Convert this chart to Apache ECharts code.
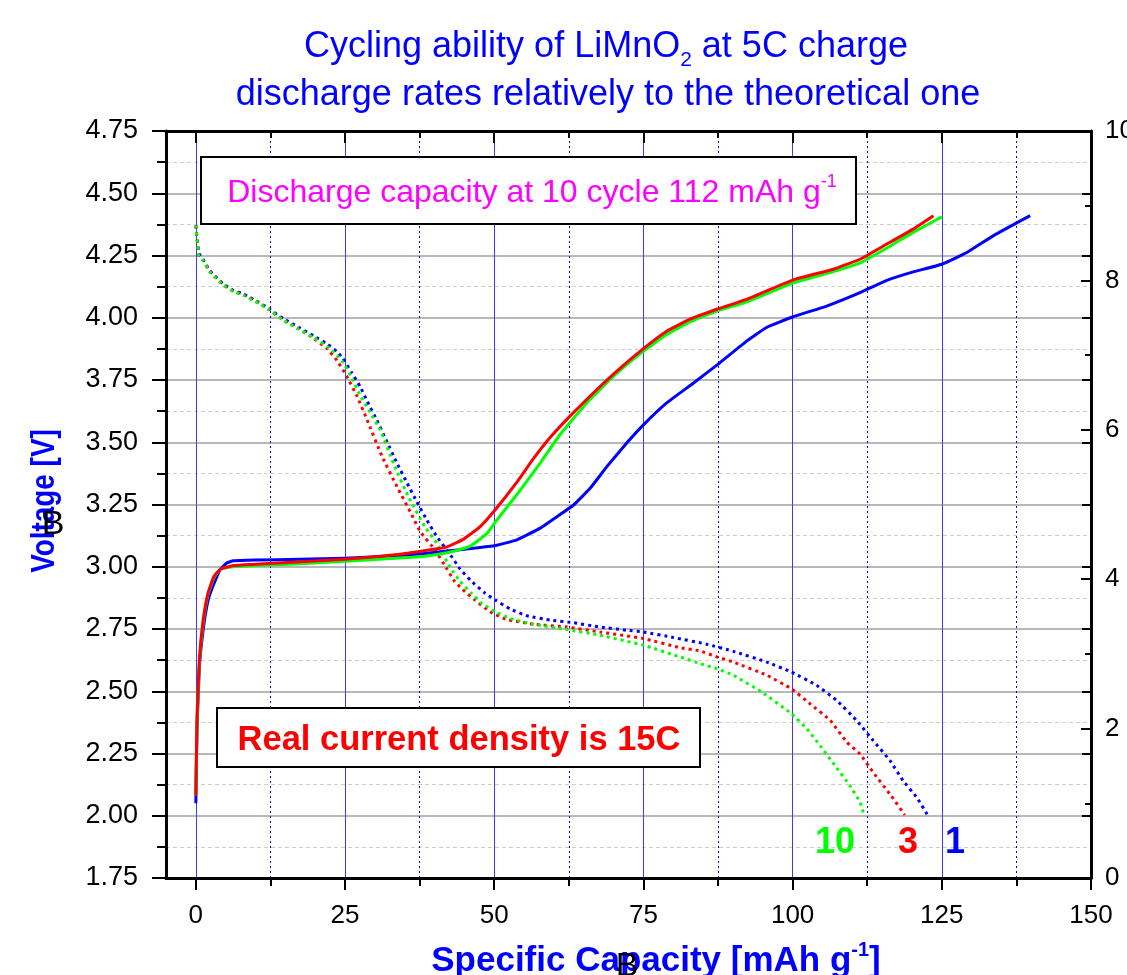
<!DOCTYPE html>
<html>
<head>
<meta charset="utf-8">
<script src="https://cdn.jsdelivr.net/npm/echarts@6/dist/echarts.min.js"></script>
<style>
html, body { margin: 0; padding: 0; background: #fff; }
#chart { width: 1127px; height: 975px; }
</style>
</head>
<body>
<div id="chart"></div>
<script>
// Galvanostatic charge/discharge profiles of LiMnO2, cycles 1, 3 and 10
const FONT = '"Liberation Sans", Arial, sans-serif';

const xMajorTicks = [0, 25, 50, 75, 100, 125, 150];
const xMinorTicks = [12.5, 37.5, 62.5, 87.5, 112.5, 137.5];
const cycleNames = ['1', '3', '10'];
const cycleColors = ['#0000ff', '#ff0000', '#00ff00'];

// [specific capacity mAh/g, voltage V]
const charge1 = [[0,2.05],[0.2,2.35],[0.6,2.6],[1.3,2.76],[2.1,2.87],[3.0,2.93],[4.1,2.99],[5.2,3.015],[6.3,3.024],[10.0,3.027],[17.5,3.03],[25.0,3.034],[32.0,3.042],[37.6,3.051],[42.1,3.063],[46.5,3.074],[50.2,3.085],[53.8,3.108],[57.7,3.155],[60.5,3.201],[63.3,3.248],[66.1,3.316],[68.9,3.403],[72.2,3.497],[75.0,3.57],[78.9,3.658],[83.4,3.738],[87.8,3.819],[92.3,3.906],[95.7,3.962],[100.1,4.004],[105.7,4.047],[111.3,4.101],[115.8,4.15],[120.2,4.184],[125.0,4.215],[129.2,4.262],[133.6,4.329],[139.8,4.41]];
const charge3 = [[0,2.08],[0.2,2.4],[0.6,2.63],[1.2,2.78],[2.0,2.89],[3.0,2.96],[4.1,2.99],[6.3,3.005],[10.0,3.01],[17.5,3.02],[25.0,3.03],[34.2,3.05],[39.8,3.07],[42.1,3.08],[44.8,3.11],[47.6,3.16],[50.2,3.23],[53.8,3.34],[56.6,3.435],[59.4,3.52],[62.7,3.605],[66.6,3.698],[70.5,3.785],[75.0,3.876],[78.9,3.946],[82.8,3.994],[87.3,4.034],[92.5,4.076],[100.1,4.152],[106.8,4.195],[111.3,4.235],[115.8,4.296],[120.2,4.356],[123.6,4.41]];
const charge10 = [[0,2.08],[0.2,2.38],[0.6,2.62],[1.2,2.77],[2.0,2.885],[3.0,2.955],[4.1,2.99],[6.3,3.0],[10.0,3.005],[17.5,3.012],[25.0,3.022],[37.6,3.04],[42.1,3.056],[46.0,3.083],[48.8,3.134],[50.2,3.18],[53.8,3.29],[57.7,3.416],[61.0,3.53],[65.5,3.658],[70.0,3.765],[75.0,3.866],[78.9,3.933],[82.8,3.983],[87.3,4.027],[92.5,4.065],[100.1,4.14],[106.8,4.185],[111.3,4.22],[115.8,4.28],[120.2,4.343],[125.0,4.405]];

const discharge1 = [[0,4.37],[0.5,4.26],[1.2,4.235],[2.3,4.19],[3.1,4.17],[4.6,4.135],[6.3,4.11],[8.0,4.095],[10.5,4.063],[12.2,4.037],[14.7,3.996],[17.2,3.962],[19.7,3.928],[22.0,3.895],[23.6,3.865],[24.6,3.838],[26.1,3.78],[27.5,3.725],[28.7,3.665],[30.3,3.59],[32.0,3.503],[33.7,3.416],[35.4,3.336],[37.0,3.262],[38.7,3.188],[40.4,3.12],[42.6,3.05],[44.3,2.99],[46.0,2.946],[48.5,2.893],[50.2,2.866],[52.7,2.83],[55.5,2.803],[59.4,2.786],[63.3,2.775],[67.7,2.758],[72.2,2.745],[75.0,2.738],[80.0,2.716],[85.6,2.689],[90.1,2.66],[95.7,2.617],[99.8,2.577],[104.0,2.524],[107.4,2.463],[110.7,2.383],[113.5,2.302],[116.3,2.222],[118.5,2.141],[120.8,2.074],[122.6,2.003]];
const discharge3 = [[0,4.37],[0.5,4.25],[1.2,4.23],[2.3,4.187],[3.1,4.167],[4.6,4.132],[6.3,4.107],[8.0,4.092],[10.5,4.06],[12.2,4.034],[14.7,3.99],[17.2,3.955],[19.7,3.918],[22.0,3.875],[23.6,3.83],[25.3,3.765],[27.0,3.685],[28.7,3.59],[31.2,3.443],[33.7,3.322],[36.2,3.208],[37.6,3.141],[40.1,3.067],[42.1,2.99],[43.4,2.94],[45.1,2.9],[46.8,2.866],[49.3,2.819],[52.1,2.788],[56.6,2.769],[62.2,2.758],[67.7,2.738],[75.0,2.712],[81.1,2.675],[84.5,2.662],[87.3,2.638],[90.1,2.617],[95.7,2.564],[99.8,2.51],[102.9,2.45],[106.3,2.383],[109.1,2.295],[111.3,2.248],[113.5,2.174],[116.3,2.087],[118.8,2.003]];
const discharge10 = [[0,4.37],[0.5,4.25],[1.2,4.23],[2.3,4.185],[3.1,4.165],[4.6,4.13],[6.3,4.105],[8.0,4.09],[10.5,4.058],[12.2,4.033],[14.7,3.99],[17.2,3.955],[19.7,3.92],[22.0,3.885],[23.6,3.85],[24.7,3.82],[26.1,3.76],[27.5,3.69],[29.2,3.62],[30.9,3.55],[33.1,3.416],[35.6,3.282],[38.4,3.16],[40.4,3.094],[42.6,2.998],[44.3,2.94],[46.2,2.893],[47.9,2.853],[50.2,2.819],[52.7,2.792],[56.6,2.769],[62.2,2.748],[67.7,2.725],[75.0,2.685],[81.1,2.638],[84.5,2.611],[87.3,2.591],[90.1,2.564],[94.8,2.497],[99.8,2.41],[102.4,2.349],[104.6,2.282],[107.1,2.201],[109.6,2.121],[111.3,2.054],[112.0,2.0]];

const chargeSets = [charge1, charge3, charge10];
const dischargeSets = [discharge1, discharge3, discharge10];

const blackLine = { color: '#000', width: 2 };
const tickFont = { fontFamily: FONT, fontSize: 26, color: '#000' };

function chargeSeries(i) {
  return {
    name: 'charge ' + cycleNames[i], type: 'line', data: chargeSets[i],
    showSymbol: false, smooth: 0.12,
    lineStyle: { color: cycleColors[i], width: 3, join: 'round' }, z: 3
  };
}
function dischargeSeries(i) {
  return {
    name: 'discharge ' + cycleNames[i], type: 'line', data: dischargeSets[i],
    showSymbol: false, smooth: 0.12,
    lineStyle: { color: cycleColors[i], width: 3, type: [3, 4], cap: 'butt' }, z: 3
  };
}

const chart = echarts.init(document.getElementById('chart'), null, { renderer: 'canvas' });

chart.setOption({
  animation: false,
  backgroundColor: '#fff',
  grid: { left: 166, right: 36, top: 131, bottom: 97, containLabel: false, outerBoundsMode: 'none' },
  xAxis: [
    {
      type: 'value', min: -5, max: 150, position: 'bottom',
      axisLine: { show: true, onZero: false, lineStyle: { color: '#000', width: 3 } },
      axisTick: { show: true, customValues: xMajorTicks, length: 12, lineStyle: blackLine },
      axisLabel: { customValues: xMajorTicks, margin: 25, ...tickFont },
      splitLine: { show: true, lineStyle: { color: '#3a3aff', width: 1 } }
    },
    {
      type: 'value', min: -5, max: 150, position: 'bottom',
      axisLine: { show: false },
      axisTick: { show: true, customValues: xMinorTicks, length: 8, lineStyle: blackLine },
      axisLabel: { show: false, customValues: xMinorTicks },
      splitLine: { show: true, lineStyle: { color: '#0000ff', width: 1, type: [2, 3] } }
    },
    {
      type: 'value', min: -5, max: 150, position: 'top',
      axisLine: { show: true, onZero: false, lineStyle: { color: '#000', width: 3 } },
      axisTick: { show: true, inside: true, customValues: xMajorTicks, length: 12, lineStyle: blackLine },
      axisLabel: { show: false, customValues: xMajorTicks },
      splitLine: { show: false }
    },
    {
      type: 'value', min: -5, max: 150, position: 'top',
      axisLine: { show: false },
      axisTick: { show: true, inside: true, customValues: xMinorTicks, length: 7, lineStyle: blackLine },
      axisLabel: { show: false, customValues: xMinorTicks },
      splitLine: { show: false }
    }
  ],
  yAxis: [
    {
      type: 'value', min: 1.75, max: 4.75, interval: 0.25, position: 'left',
      axisLine: { show: true, onZero: false, lineStyle: { color: '#000', width: 3 } },
      axisTick: { show: true, length: 14, lineStyle: blackLine },
      minorTick: { show: true, splitNumber: 2, length: 9, lineStyle: blackLine },
      axisLabel: { formatter: v => v.toFixed(2), margin: 28, ...tickFont, fontSize: 27 },
      splitLine: { show: true, lineStyle: { color: '#a0a0a0', width: 1.5 } },
      minorSplitLine: { show: true, lineStyle: { color: '#cfcfcf', width: 1, type: [4, 3] } }
    },
    {
      type: 'value', min: 0, max: 10, interval: 2, position: 'right',
      axisLine: { show: true, onZero: false, lineStyle: { color: '#000', width: 3 } },
      axisTick: { show: true, inside: true, length: 10, lineStyle: blackLine },
      minorTick: { show: true, splitNumber: 2, length: 6, lineStyle: blackLine },
      axisLabel: { margin: 14, ...tickFont },
      splitLine: { show: false }
    },
    {
      type: 'value', min: 1.75, max: 4.75, interval: 0.25, position: 'right',
      axisLine: { show: false, onZero: false },
      axisTick: { show: true, inside: true, length: 9, lineStyle: blackLine },
      minorTick: { show: false },
      axisLabel: { show: false },
      splitLine: { show: false }
    }
  ],
  series: [
    dischargeSeries(0), dischargeSeries(1), dischargeSeries(2),
    chargeSeries(0), chargeSeries(2), chargeSeries(1)
  ],
  graphic: [
    {
      type: 'text', x: 606, y: 47, z: 10,
      style: {
        text: '{a|Cycling ability of LiMnO}{s|2}{a| at 5C charge}',
        align: 'center', verticalAlign: 'middle',
        rich: {
          a: { fontFamily: FONT, fontSize: 36, fill: '#0000ff', lineHeight: 48 },
          s: { fontFamily: FONT, fontSize: 21, fill: '#0000ff', lineHeight: 18, verticalAlign: 'bottom' }
        }
      }
    },
    {
      type: 'text', x: 608, y: 95, z: 10,
      style: {
        text: 'discharge rates relatively to the theoretical one',
        align: 'center', verticalAlign: 'middle',
        fontFamily: FONT, fontSize: 36, fill: '#0000ff'
      }
    },
    {
      type: 'rect', z: 10,
      shape: { x: 201, y: 157, width: 655, height: 67 },
      style: { fill: '#fff', stroke: '#000', lineWidth: 2 }
    },
    {
      type: 'text', x: 532, y: 193, z: 11,
      style: {
        text: '{a|Discharge capacity at 10 cycle 112 mAh g}{p|-1}',
        align: 'center', verticalAlign: 'middle',
        rich: {
          a: { fontFamily: FONT, fontSize: 32, fill: '#ff00ff', lineHeight: 40 },
          p: { fontFamily: FONT, fontSize: 18, fill: '#ff00ff', lineHeight: 22, verticalAlign: 'top' }
        }
      }
    },
    {
      type: 'rect', z: 10,
      shape: { x: 217, y: 708, width: 483, height: 59 },
      style: { fill: '#fff', stroke: '#000', lineWidth: 2 }
    },
    {
      type: 'text', x: 459, y: 740, z: 11,
      style: {
        text: 'Real current density is 15C',
        align: 'center', verticalAlign: 'middle',
        fontFamily: FONT, fontSize: 34.5, fontWeight: 'bold', fill: '#ff0000'
      }
    },
    {
      type: 'text', x: 835, y: 843, z: 11,
      style: { text: cycleNames[2], align: 'center', verticalAlign: 'middle',
        fontFamily: FONT, fontSize: 36, fontWeight: 'bold', fill: cycleColors[2] }
    },
    {
      type: 'text', x: 908, y: 843, z: 11,
      style: { text: cycleNames[1], align: 'center', verticalAlign: 'middle',
        fontFamily: FONT, fontSize: 36, fontWeight: 'bold', fill: cycleColors[1] }
    },
    {
      type: 'text', x: 955, y: 843, z: 11,
      style: { text: cycleNames[0], align: 'center', verticalAlign: 'middle',
        fontFamily: FONT, fontSize: 36, fontWeight: 'bold', fill: cycleColors[0] }
    },
    {
      type: 'text', x: 45, y: 501, rotation: Math.PI / 2, scaleX: 0.82, z: 11,
      style: { text: 'Voltage [V]', align: 'center', verticalAlign: 'middle',
        fontFamily: FONT, fontSize: 34, fontWeight: 'bold', fill: '#0000ff' }
    },
    {
      type: 'text', x: 53, y: 525, z: 12,
      style: { text: 'B', align: 'center', verticalAlign: 'middle',
        fontFamily: FONT, fontSize: 34, fill: '#000' }
    },
    {
      type: 'text', x: 656, y: 961, z: 11,
      style: {
        text: '{a|Specific Capacity [mAh g}{p|-1}{a|]}',
        align: 'center', verticalAlign: 'middle',
        rich: {
          a: { fontFamily: FONT, fontSize: 35, fontWeight: 'bold', fill: '#0000ff', lineHeight: 42 },
          p: { fontFamily: FONT, fontSize: 20, fontWeight: 'bold', fill: '#0000ff', lineHeight: 24, verticalAlign: 'top' }
        }
      }
    },
    {
      type: 'text', x: 627, y: 967, z: 12,
      style: { text: 'B', align: 'center', verticalAlign: 'middle',
        fontFamily: FONT, fontSize: 34, fill: '#000' }
    }
  ]
});
</script>
</body>
</html>
